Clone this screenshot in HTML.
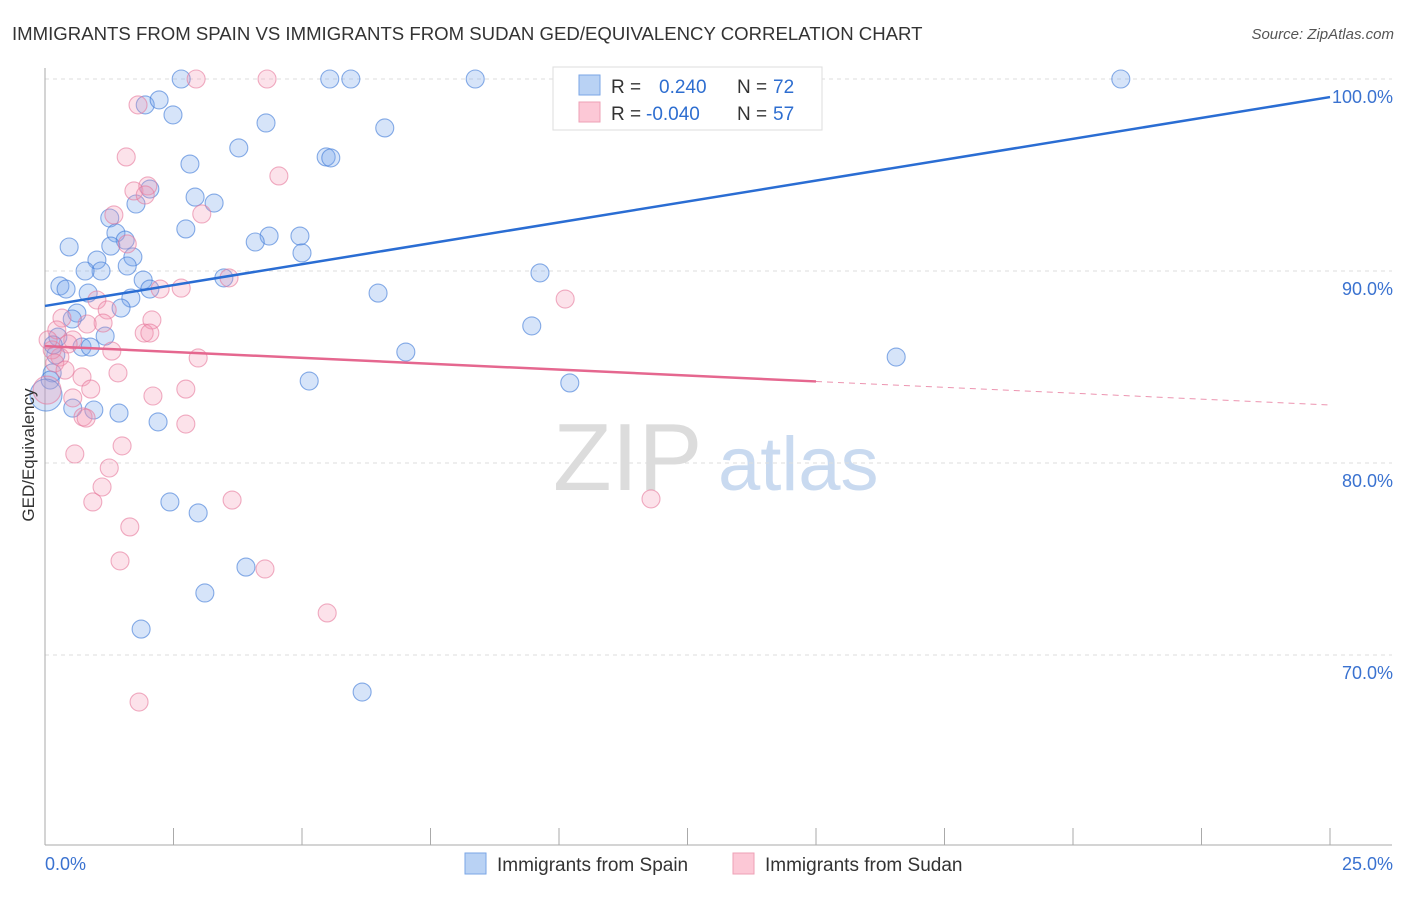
<!DOCTYPE html>
<html><head><meta charset="utf-8"><style>
body{margin:0;background:#fff;font-family:"Liberation Sans",sans-serif}
svg text{font-family:"Liberation Sans",sans-serif}
</style></head><body>
<svg id="c" width="1406" height="892">
<text x="12" y="40" font-size="18.6" fill="#333">IMMIGRANTS FROM SPAIN VS IMMIGRANTS FROM SUDAN GED/EQUIVALENCY CORRELATION CHART</text>
<text x="1394" y="39" font-size="15" fill="#555" font-style="italic" text-anchor="end">Source: ZipAtlas.com</text>
<g><text x="553" y="490" font-size="96" font-family="Liberation Serif,serif" fill="#dcdcdc">ZIP</text><text x="718" y="490" font-size="76" fill="#c9daf0">atlas</text></g>
<g id="grid"></g><g id="axes"></g><g id="pts"></g><g id="trend"></g>
<text transform="translate(34,455) rotate(-90)" font-size="17" fill="#333" text-anchor="middle">GED/Equivalency</text>
<g>
<rect x="553" y="67" width="269" height="63" fill="#fff" stroke="#ddd"/>
<rect x="579" y="75" width="21" height="20" fill="#b9d2f4" stroke="#7aa6e6"/>
<rect x="579" y="102" width="21" height="20" fill="#fcc8d6" stroke="#eea0b6"/>
<text x="611" y="93" font-size="19" fill="#333">R =</text><text x="659" y="93" font-size="19" fill="#2e6ed0">0.240</text>
<text x="737" y="93" font-size="19" fill="#333">N =</text><text x="773" y="93" font-size="19" fill="#2e6ed0">72</text>
<text x="611" y="120" font-size="19" fill="#333">R =</text><text x="646" y="120" font-size="19" fill="#2e6ed0">-0.040</text>
<text x="737" y="120" font-size="19" fill="#333">N =</text><text x="773" y="120" font-size="19" fill="#2e6ed0">57</text>
</g>
<g>
<rect x="465" y="853" width="21" height="21" fill="#b9d2f4" stroke="#7aa6e6"/>
<text x="497" y="871" font-size="19" fill="#333">Immigrants from Spain</text>
<rect x="733" y="853" width="21" height="21" fill="#fcc8d6" stroke="#eea0b6"/>
<text x="765" y="871" font-size="19" fill="#333">Immigrants from Sudan</text>
</g>
</svg>
<script>
const yTicks=[100,90,80,70];
const yTickLabels=["100.0%","90.0%","80.0%","70.0%"];
const xEndLabels=["0.0%","25.0%"];
const spainX=[2.65,5.54,5.95,8.37,20.93,11.13,11.93,1.95,2.22,2.49,4.30,6.61,3.77,2.82,5.47,5.56,2.04,2.92,3.29,1.77,1.26,2.74,1.38,1.56,1.28,4.36,4.96,4.09,5.00,0.47,1.01,1.09,0.78,1.71,1.60,1.91,3.48,0.29,0.41,0.84,2.04,1.67,1.48,6.48,9.63,0.62,0.53,9.47,1.17,0.25,0.72,0.88,7.02,0.21,16.56,5.14,10.21,0.54,0.95,1.44,2.20,2.43,2.98,3.91,3.11,1.87,6.17,0.14,0.10,0.16,0.02];
const spainY=[100,100,100,100,100,100,100,98.65,98.91,98.13,97.71,97.45,96.41,95.57,95.94,95.89,94.27,93.85,93.54,93.49,92.76,92.19,91.98,91.61,91.30,91.82,91.82,91.51,90.94,91.25,90.57,90.00,90.00,90.73,90.26,89.53,89.64,89.22,89.06,88.85,89.06,88.59,88.07,88.85,89.90,87.81,87.50,87.14,86.61,86.56,86.04,86.04,85.78,85.63,85.52,84.27,84.17,82.86,82.76,82.60,82.14,77.97,77.40,74.58,73.23,71.35,68.07,84.69,84.32,86.15,83.54];
const sudanX=[2.94,4.32,1.81,1.58,4.55,1.73,2.00,1.95,1.34,3.05,1.60,2.24,2.65,3.58,10.12,1.01,1.21,2.08,1.13,0.82,0.33,0.23,0.54,0.45,1.93,2.04,1.30,2.98,0.29,0.14,0.04,0.72,1.42,2.10,2.74,0.54,0.89,0.74,0.80,2.74,1.50,0.58,1.25,1.11,0.93,3.64,11.79,1.65,1.46,4.28,5.49,1.83,0.19,0.39,0.06];
const sudanY=[100,100,98.65,95.94,94.95,94.17,94.43,93.96,92.92,92.97,91.41,89.06,89.11,89.64,88.54,88.49,87.97,87.45,87.29,87.24,87.55,86.93,86.41,86.20,86.77,86.77,85.83,85.47,85.52,85.89,83.80,84.48,84.69,83.49,83.85,83.39,83.85,82.40,82.34,82.03,80.89,80.47,79.74,78.75,77.97,78.07,78.13,76.67,74.90,74.48,72.19,67.55,85.21,84.84,86.41];
const spainTrend=[88.18,99.06];
const sudanTrend=[86.09,83.02];
const X0=45,X1=1330,Y100=79,PPU=19.2;
const sx=v=>X0+(X1-X0)*v/25, sy=v=>Y100+(100-v)*PPU;
const NS="http://www.w3.org/2000/svg";
function mk(t,a,p){const e=document.createElementNS(NS,t);for(const k in a)e.setAttribute(k,a[k]);document.getElementById(p).appendChild(e);return e;}
yTicks.forEach((v,i)=>{
 const l=mk('line',{x1:X0,x2:1392,y1:sy(v),y2:sy(v),stroke:'#ddd','stroke-dasharray':'4,4'},'grid');
 
 
 const t=mk('text',{x:1393,y:sy(v)+24,'font-size':18,fill:'#3a72d0','text-anchor':'end'},'grid');t.textContent=yTickLabels[i];
 
 
});
const ax=mk('line',{x1:X0,x2:X0,y1:68,y2:845,stroke:'#aaa'},'axes');


const bx=mk('line',{x1:X0,x2:1392,y1:845,y2:845,stroke:'#aaa'},'axes');


for(let v=0;v<=25;v+=2.5){const t=mk('line',{x1:sx(v),x2:sx(v),y1:828,y2:845,stroke:'#aaa'},'axes');
 
 }
const l0=mk('text',{x:45,y:870,'font-size':18,fill:'#3a72d0'},'axes');l0.textContent=xEndLabels[0];


const l1=mk('text',{x:1393,y:870,'font-size':18,fill:'#3a72d0','text-anchor':'end'},'axes');l1.textContent=xEndLabels[1];


spainX.forEach((x,i)=>{const c=mk('circle',{cx:sx(x),cy:sy(spainY[i]),r:i==spainX.length-1?16:9,fill:'rgba(120,165,235,0.3)',stroke:'rgba(60,120,215,0.6)','stroke-width':1.1},'pts');
 
 });
sudanX.forEach((x,i)=>{const c=mk('circle',{cx:sx(x),cy:sy(sudanY[i]),r:i==30?14:9,fill:'rgba(245,150,180,0.28)',stroke:'rgba(230,120,155,0.6)','stroke-width':1.1},'pts');
 
 });
const tb=mk('line',{x1:sx(0),y1:sy(spainTrend[0]),x2:sx(25),y2:sy(spainTrend[1]),stroke:'#2a6dd3','stroke-width':2.5},'trend');


const ym=sudanTrend[0]+(sudanTrend[1]-sudanTrend[0])*15/25;
const tp=mk('line',{x1:sx(0),y1:sy(sudanTrend[0]),x2:sx(15),y2:sy(ym),stroke:'#e5678f','stroke-width':2.5},'trend');


const tpd=mk('line',{x1:sx(15),y1:sy(ym),x2:sx(25),y2:sy(sudanTrend[1]),stroke:'#e5678f','stroke-width':1,'stroke-dasharray':'6,5',opacity:0.7},'trend');


</script>
</body></html>
